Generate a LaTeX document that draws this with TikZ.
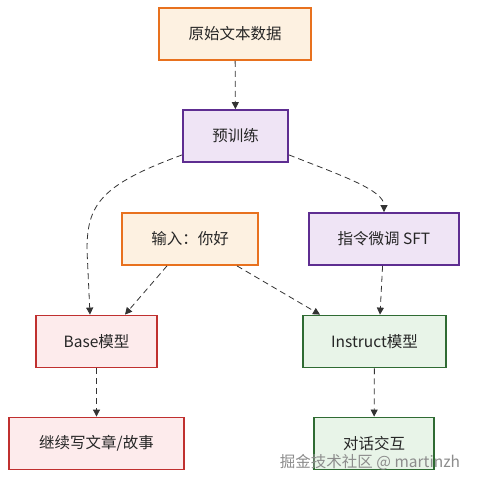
\documentclass[tikz,border=0pt]{standalone}
\usepackage{fontspec}
\newfontfamily\cjk{Noto Sans CJK SC}
\usetikzlibrary{arrows.meta}
\definecolor{orgline}{HTML}{E8711E}
\definecolor{orgfill}{HTML}{FDF1E1}
\definecolor{purline}{HTML}{5E2D91}
\definecolor{purfill}{HTML}{EFE4F5}
\definecolor{redline}{HTML}{C0302F}
\definecolor{redfill}{HTML}{FDEBEC}
\definecolor{grnline}{HTML}{2F6B33}
\definecolor{grnfill}{HTML}{E8F4E8}
\definecolor{edge}{HTML}{333333}
\tikzset{
	box/.style={draw, line width=1.8pt, minimum height=52pt, inner sep=0pt, font=\cjk\fontsize{15.5}{18}\selectfont, text=black!85},
	orgbox/.style={box, draw=orgline, fill=orgfill},
	purbox/.style={box, draw=purline, fill=purfill},
	redbox/.style={box, draw=redline, fill=redfill},
	grnbox/.style={box, draw=grnline, fill=grnfill},
	flow/.style={->, edge, line width=0.8pt, dash pattern=on 6pt off 4pt},
	>={Triangle[length=7pt,width=7pt]}
}
\begin{document}
\begin{tikzpicture}[x=1pt, y=-1pt]
		\useasboundingbox (0,0) rectangle (476,486);
		
		\node[orgbox, minimum width=152pt] (raw) at (235,34) {原始文本数据};
		\node[purbox, minimum width=105pt] (pre) at (235.5,136) {预训练};
		
		\node[orgbox, minimum width=136pt] (input) at (190,239) {输入：你好};
		\node[purbox, minimum width=150pt] (sft) at (384,239) {指令微调 SFT};
		
		\node[redbox, minimum width=121pt] (base) at (96.5,341.5) {Base模型};
		\node[grnbox, minimum width=143pt] (inst) at (374.5,341.5) {Instruct模型};
		
		\node[redbox, minimum width=175pt] (cont) at (96.5,443.5) {继续写文章/故事};
		\node[grnbox, minimum width=120pt] (chat) at (374,443.5) {对话交互};
		
		\draw[flow] (raw) -- (pre);
		\draw[flow] ([yshift=8pt]pre.south west) .. controls (100,185) and (87,205) .. (87,250) -- ([xshift=-6.5pt]base.north);
		\draw[flow] ([yshift=8pt]pre.south east) .. controls (340,175) and (384,190) .. (sft.north);
		
		\draw[flow] ([xshift=-23pt]input.south) -- ([xshift=28.5pt]base.north);
		\draw[flow] ([xshift=47pt]input.south) -- ([xshift=-54.5pt]inst.north);
		\draw[flow] (sft) -- ([xshift=5.5pt]inst.north);
		
		\draw[flow] (base) -- (cont);
		\draw[flow] (inst) -- (chat);
		
		\node[text=black!45, font=\cjk\fontsize{15.5}{18}\selectfont] (mark) at (370,462) {掘金技术社区 @ martinzh};
	\end{tikzpicture}
\end{document}
